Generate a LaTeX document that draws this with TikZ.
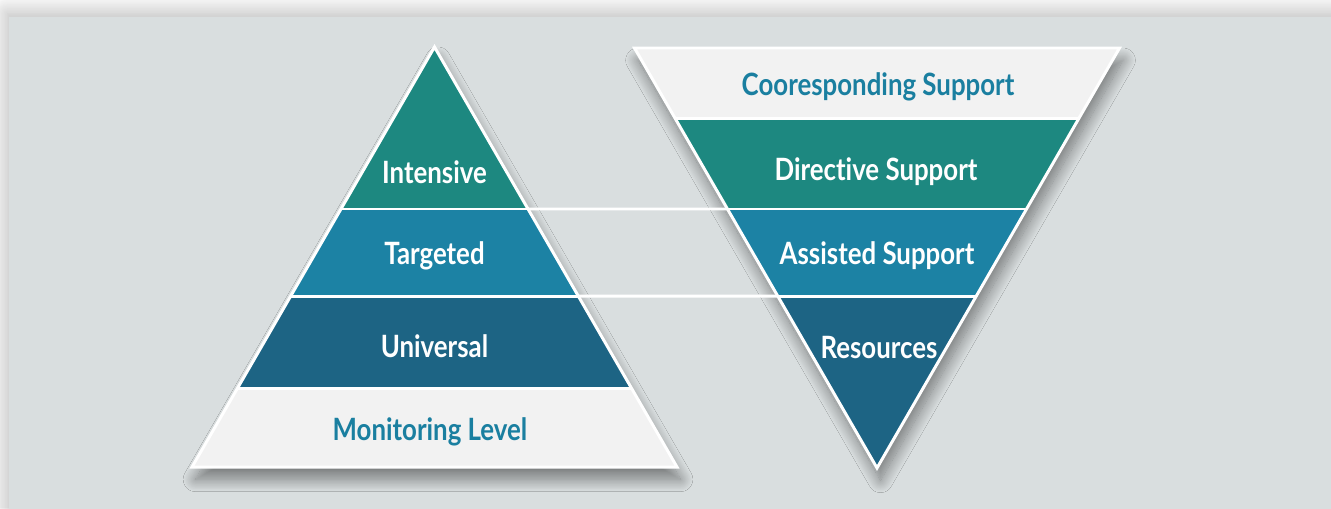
\documentclass[tikz,border=0pt]{standalone}
\usepackage{fontspec}
\newfontfamily\bandfont[FakeStretch=0.84,Ligatures=NoCommon]{Lato}
\usetikzlibrary{calc,shadows.blur}
\definecolor{panelgrey}{RGB}{217,222,223}
\definecolor{paper}{RGB}{248,248,248}
\definecolor{tealband}{RGB}{29,136,128}
\definecolor{midblue}{RGB}{28,130,164}
\definecolor{darkblue}{RGB}{29,100,132}
\definecolor{pale}{RGB}{242,242,242}
\definecolor{labelblue}{RGB}{26,127,160}
\tikzset{
    % Soft shadow under the triangles
    soft/.style={
        blur shadow={shadow xshift=2pt, shadow yshift=-7pt,
            shadow blur steps=20, shadow blur radius=7pt, shadow opacity=45},
    },
    % White border round each triangle
    outline/.style={
        draw=white,
        line width=1.7pt,
        line join=miter,
    },
    % White line between two bands
    divider/.style={
        draw=white,
        line width=1.7pt,
    },
    % Line that joins the two triangles
    link/.style={
        draw=white,
        line width=1.7pt,
    },
    % Text on a band
    band/.style={
        font=\bandfont\bfseries\fontsize{17.5}{20}\selectfont,
        text=white,
        inner sep=0pt,
    },
    % Text on a pale band
    paleband/.style={
        band,
        text=labelblue,
    },
}
\begin{document}
\begin{tikzpicture}[x=0.02cm,y=-0.02cm]
\useasboundingbox (0,0) rectangle (1331,508);
% Background
\fill[paper] (0,0) rectangle (1331,508);
\fill[panelgrey, blur shadow={shadow xshift=-1pt, shadow yshift=2pt,
    shadow blur steps=20, shadow blur radius=9pt, shadow opacity=25}]
    (9,17) rectangle (1360,540);

% Left pyramid
\coordinate (L-top) at (434.5,47);
\coordinate (L-left) at (192,467);
\coordinate (L-right) at (677,467);
\coordinate (L1-l) at ($(L-top)!0.3857!(L-left)$);
\coordinate (L1-r) at ($(L-top)!0.3857!(L-right)$);
\coordinate (L2-l) at ($(L-top)!0.5929!(L-left)$);
\coordinate (L2-r) at ($(L-top)!0.5929!(L-right)$);
\coordinate (L3-l) at ($(L-top)!0.8119!(L-left)$);
\coordinate (L3-r) at ($(L-top)!0.8119!(L-right)$);
\fill[white, soft] (L-top) -- (L-left) -- (L-right) -- cycle;
\fill[tealband] (L-top) -- (L1-l) -- (L1-r) -- cycle;
\fill[midblue] (L1-l) -- (L2-l) -- (L2-r) -- (L1-r) -- cycle;
\fill[darkblue] (L2-l) -- (L3-l) -- (L3-r) -- (L2-r) -- cycle;
\fill[pale] (L3-l) -- (L-left) -- (L-right) -- (L3-r) -- cycle;
\draw[divider] (L1-l) -- (L1-r);
\draw[divider] (L2-l) -- (L2-r);
\draw[divider] (L3-l) -- (L3-r);
\draw[outline] (L-top) -- (L-left) -- (L-right) -- cycle;
\node[band] (intensive) at (434.5,172) {Intensive};
\node[band] (targeted) at (434.5,256) {Targeted};
\node[band] (universal) at (434.5,346) {Universal};
\node[paleband] (monitoring) at (430,432) {Monitoring Level};

% Right pyramid, upside down
\coordinate (R-bottom) at (877,468);
\coordinate (R-left) at (634.5,48);
\coordinate (R-right) at (1119.5,48);
\coordinate (R1-l) at ($(R-left)!0.169!(R-bottom)$);
\coordinate (R1-r) at ($(R-right)!0.169!(R-bottom)$);
\coordinate (R2-l) at ($(R-left)!0.3833!(R-bottom)$);
\coordinate (R2-r) at ($(R-right)!0.3833!(R-bottom)$);
\coordinate (R3-l) at ($(R-left)!0.5905!(R-bottom)$);
\coordinate (R3-r) at ($(R-right)!0.5905!(R-bottom)$);
\fill[white, soft] (R-left) -- (R-right) -- (R-bottom) -- cycle;
\fill[pale] (R-left) -- (R-right) -- (R1-r) -- (R1-l) -- cycle;
\fill[tealband] (R1-l) -- (R1-r) -- (R2-r) -- (R2-l) -- cycle;
\fill[midblue] (R2-l) -- (R2-r) -- (R3-r) -- (R3-l) -- cycle;
\fill[darkblue] (R3-l) -- (R3-r) -- (R-bottom) -- cycle;
\draw[divider] (R1-l) -- (R1-r);
\draw[divider] (R2-l) -- (R2-r);
\draw[divider] (R3-l) -- (R3-r);
\draw[outline] (R-left) -- (R-right) -- (R-bottom) -- cycle;
\node[paleband] (cooresponding) at (878,87) {Cooresponding Support};
\node[band] (directive) at (876,172) {Directive Support};
\node[band] (assisted) at (877,256) {Assisted Support};
\node[band] (resources) at (879,347) {Resources};

% Links between the pyramids
\draw[link] (L1-r) -- (R2-l);
\draw[link] (L2-r) -- (R3-l);
\end{tikzpicture}
\end{document}
